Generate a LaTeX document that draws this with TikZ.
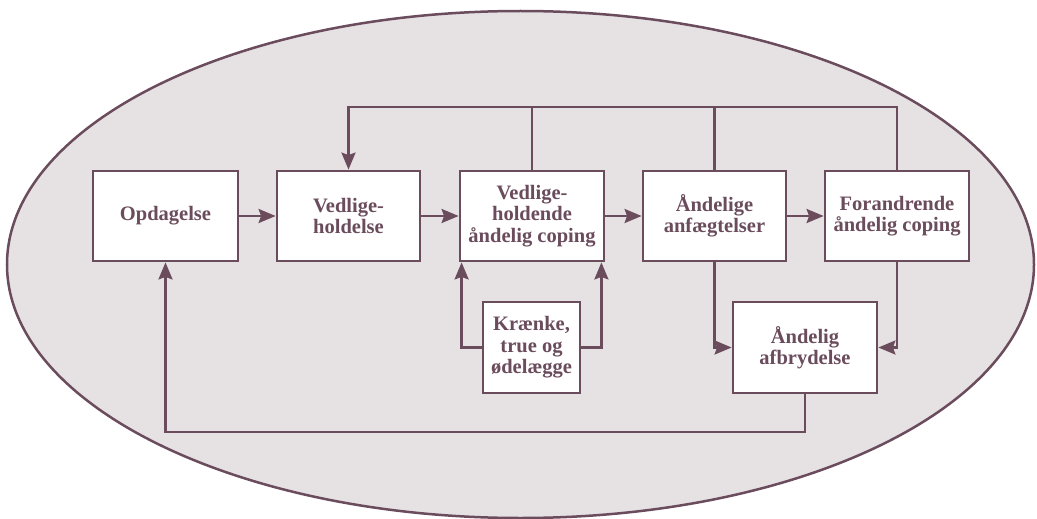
\documentclass[tikz,border=0pt]{standalone}
\usepackage{fontspec}
\setmainfont{Liberation Serif}
\usetikzlibrary{arrows.meta,calc}
\definecolor{plum}{HTML}{6A4C5C}
\definecolor{bgfill}{HTML}{E6E1E3}
\tikzset{
  box/.style={draw=plum, line width=2.8pt, fill=white, align=center, text=plum,
    font=\fontsize{20.5}{21.5}\selectfont\bfseries, inner sep=0pt},
  conn/.style={draw=plum, line width=2.5pt},
  arr/.style={conn, -{Stealth[length=17pt,width=14pt,inset=2.5pt]}}
}
\begin{document}
\begin{tikzpicture}[x=1pt,y=-1pt]
\useasboundingbox (0,0) rectangle (1037,519);
\draw[draw=plum, fill=bgfill, line width=2.5pt] (520.5,264.5) ellipse [x radius=513.5, y radius=253.5];
\node[box, minimum width=145pt, minimum height=90pt] (opd) at (165.5,216) {Opdagelse};
\node[box, minimum width=143pt, minimum height=90pt] (ved) at (348.5,216) {Vedlige-\\holdelse};
\node[box, minimum width=144pt, minimum height=90pt] (vdh) at (532,216) {Vedlige-\\holdende\\åndelig coping};
\node[box, minimum width=143pt, minimum height=90pt] (and) at (714.5,216) {Åndelige\\anfægtelser};
\node[box, minimum width=144pt, minimum height=90pt] (for) at (897,216) {Forandrende\\åndelig coping};
\node[box, minimum width=97pt, minimum height=91pt] (kra) at (531.5,347.5) {Krænke,\\true og\\ødelægge};
\node[box, minimum width=144pt, minimum height=91pt] (afb) at (805,347.5) {Åndelig\\afbrydelse};
\coordinate (top) at (0,107);
\coordinate (bot) at (0,432);
\draw[arr] (opd) -- (ved);
\draw[arr] (ved) -- (vdh);
\draw[arr] (vdh) -- (and);
\draw[arr] (and) -- (for);
\draw[arr] (for.north) |- (ved.north |- top) -- (ved.north);
\draw[conn] (vdh.north) -- (vdh.north |- top);
\draw[conn] (and.north) -- (and.north |- top);
\draw[arr] (kra.west) -| ([xshift=3pt]vdh.south west);
\draw[arr] (kra.east) -| ([xshift=-4pt]vdh.south east);
\draw[arr] (and.south) |- (afb.west);
\draw[arr] (for.south) |- (afb.east);
\draw[arr] (afb.south) |- (opd.south |- bot) -- (opd.south);
\end{tikzpicture}
\end{document}
